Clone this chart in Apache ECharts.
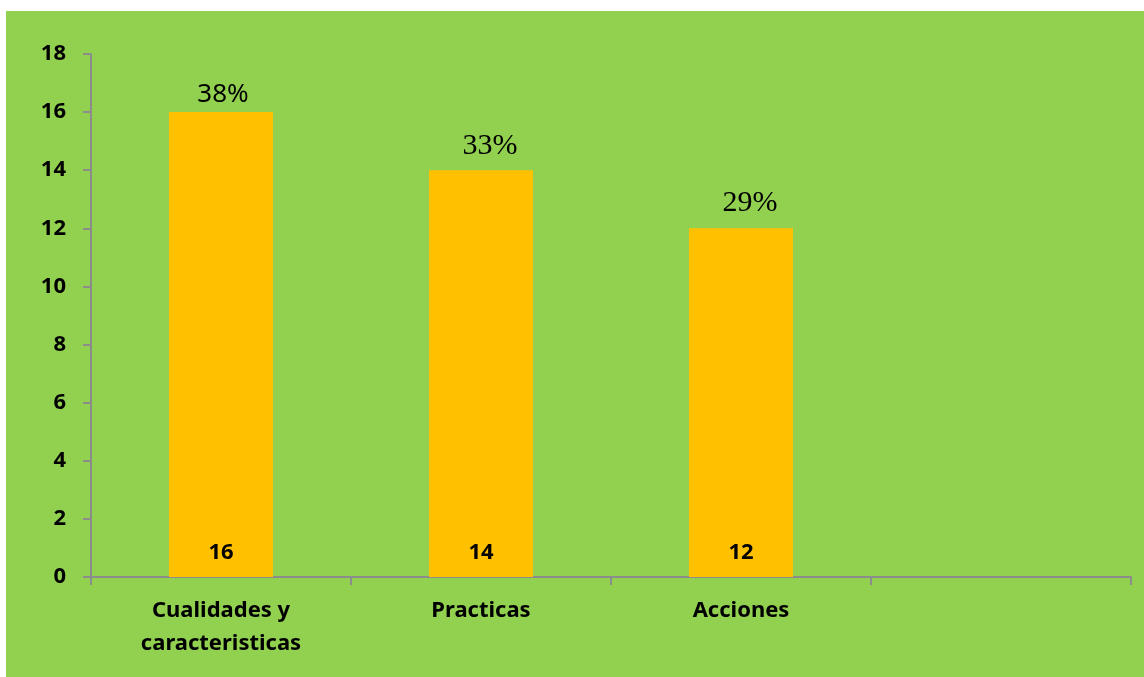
<!DOCTYPE html>
<html>
<head>
<meta charset="utf-8">
<script src="https://cdn.jsdelivr.net/npm/echarts@6/dist/echarts.min.js"></script>
<style>
html,body{margin:0;padding:0;background:#fff;}
#c{width:1144px;height:677px;}
</style>
</head>
<body>
<div id="c"></div>
<script>
const categories = ['Cualidades y\ncaracteristicas', 'Practicas', 'Acciones', ''];
const counts = [16, 14, 12, null];
const percents = ['38%', '33%', '29%', ''];
const yTicks = {min: 0, max: 18, interval: 2};

const percentStyles = [
  {fontFamily: 'Noto Sans', fontSize: 26, offset: [2, 0], distance: 5},
  {fontFamily: 'Liberation Serif', fontSize: 30, offset: [9, 0], distance: 9},
  {fontFamily: 'Liberation Serif', fontSize: 30, offset: [9, 0], distance: 10},
  {}
];

const chart = echarts.init(document.getElementById('c'));
chart.setOption({
  backgroundColor: '#ffffff',
  animation: false,
  graphic: [{
    type: 'rect', z: -100, silent: true,
    shape: {x: 6, y: 11, width: 1138, height: 666},
    style: {fill: '#92D050'}
  }],
  grid: {left: 91, right: 13, top: 54, bottom: 100, containLabel: false},
  xAxis: {
    type: 'category',
    data: categories,
    boundaryGap: true,
    axisLine: {lineStyle: {color: '#8C8C8C', width: 2}},
    axisTick: {show: true, length: 8, lineStyle: {color: '#8C8C8C', width: 2}},
    axisLabel: {
      interval: 0, margin: 17, color: '#000',
      fontFamily: 'Noto Sans', fontWeight: 'bold', fontSize: 22, lineHeight: 33
    },
    splitLine: {show: false}
  },
  yAxis: {
    type: 'value',
    min: yTicks.min, max: yTicks.max, interval: yTicks.interval,
    axisLine: {show: true, lineStyle: {color: '#8C8C8C', width: 2}},
    axisTick: {show: true, length: 8, lineStyle: {color: '#8C8C8C', width: 2}},
    axisLabel: {margin: 25, color: '#000', fontFamily: 'Noto Sans', fontWeight: 'bold', fontSize: 22},
    splitLine: {show: false}
  },
  series: [
    {
      type: 'bar',
      data: counts,
      barWidth: '40%',
      itemStyle: {color: '#FFC000'},
      label: {
        show: true, position: 'insideBottom', distance: 13,
        color: '#000', fontFamily: 'Noto Sans', fontWeight: 'bold', fontSize: 22
      }
    },
    {
      type: 'bar',
      data: counts.map((v, i) => ({
        value: v,
        label: Object.assign({}, percentStyles[i])
      })),
      barWidth: '40%',
      barGap: '-100%',
      itemStyle: {color: 'rgba(0,0,0,0)'},
      label: {
        show: true, position: 'top', color: '#000',
        formatter: p => percents[p.dataIndex]
      },
      z: 5
    }
  ]
});
</script>
</body>
</html>
